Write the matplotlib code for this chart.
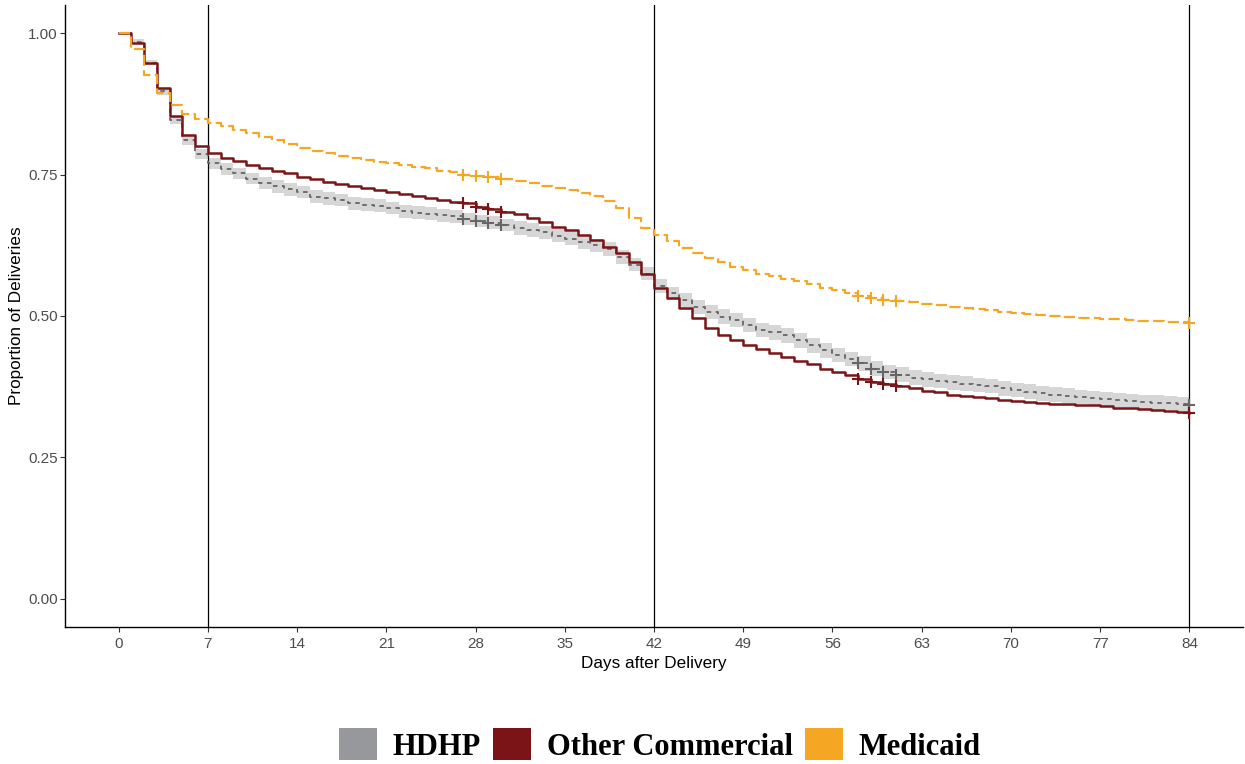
import matplotlib
matplotlib.use("Agg")
import matplotlib.pyplot as plt
from matplotlib.patches import Patch

plt.rcParams["font.family"] = ["Liberation Sans", "DejaVu Sans"]

# Kaplan-Meier style curves, one value per day (0..84)
days = list(range(85))

hdhp = [1.0, 0.985, 0.948, 0.897, 0.847, 0.811, 0.787, 0.770, 0.760, 0.752,
        0.743, 0.735, 0.729, 0.724, 0.719, 0.711, 0.708, 0.705, 0.699, 0.697,
        0.695, 0.691, 0.685, 0.683, 0.681, 0.678, 0.676, 0.672, 0.668, 0.665,
        0.661, 0.656, 0.652, 0.648, 0.642, 0.637, 0.631, 0.625, 0.618, 0.604,
        0.591, 0.575, 0.553, 0.540, 0.528, 0.516, 0.507, 0.499, 0.493, 0.484,
        0.475, 0.471, 0.466, 0.457, 0.448, 0.439, 0.431, 0.424, 0.416, 0.407,
        0.401, 0.396, 0.391, 0.388, 0.385, 0.383, 0.380, 0.378, 0.376, 0.372,
        0.369, 0.366, 0.363, 0.361, 0.359, 0.357, 0.355, 0.353, 0.351, 0.349,
        0.348, 0.347, 0.346, 0.344, 0.343]

# half width of the HDHP confidence band per day
hdhp_ci = [0.0, 0.004, 0.005, 0.006, 0.007, 0.008, 0.009, 0.010, 0.010, 0.010,
           0.010, 0.010, 0.011, 0.011, 0.011, 0.011, 0.011, 0.011, 0.011, 0.011,
           0.011, 0.011, 0.011, 0.011, 0.011, 0.011, 0.011, 0.011, 0.011, 0.011,
           0.011, 0.012, 0.012, 0.012, 0.012, 0.012, 0.012, 0.012, 0.012, 0.012,
           0.012, 0.012, 0.012, 0.012, 0.012, 0.013, 0.013, 0.013, 0.013, 0.013,
           0.013, 0.013, 0.013, 0.013, 0.013, 0.013, 0.013, 0.013, 0.013, 0.013,
           0.013, 0.013, 0.013, 0.013, 0.013, 0.013, 0.013, 0.013, 0.013, 0.013,
           0.013, 0.013, 0.013, 0.013, 0.013, 0.013, 0.013, 0.013, 0.013, 0.013,
           0.013, 0.013, 0.013, 0.013, 0.013]

other_commercial = [1.0, 0.982, 0.947, 0.903, 0.853, 0.820, 0.800, 0.789, 0.780, 0.774,
                    0.767, 0.762, 0.756, 0.752, 0.746, 0.742, 0.737, 0.733, 0.730, 0.726,
                    0.723, 0.719, 0.715, 0.713, 0.709, 0.705, 0.702, 0.699, 0.693, 0.689,
                    0.684, 0.680, 0.673, 0.667, 0.658, 0.652, 0.643, 0.634, 0.622, 0.611,
                    0.595, 0.575, 0.550, 0.531, 0.514, 0.497, 0.478, 0.467, 0.457, 0.448,
                    0.441, 0.434, 0.428, 0.421, 0.415, 0.407, 0.401, 0.395, 0.389, 0.384,
                    0.380, 0.377, 0.372, 0.368, 0.365, 0.361, 0.359, 0.357, 0.355, 0.352,
                    0.350, 0.348, 0.346, 0.345, 0.344, 0.343, 0.342, 0.340, 0.338, 0.337,
                    0.335, 0.334, 0.332, 0.331, 0.329]

medicaid = [1.0, 0.973, 0.926, 0.895, 0.873, 0.858, 0.848, 0.841, 0.836, 0.829,
            0.823, 0.817, 0.811, 0.805, 0.797, 0.792, 0.788, 0.783, 0.779, 0.776,
            0.773, 0.770, 0.767, 0.764, 0.761, 0.757, 0.754, 0.750, 0.748, 0.746,
            0.742, 0.739, 0.735, 0.730, 0.727, 0.723, 0.717, 0.712, 0.704, 0.691,
            0.674, 0.656, 0.644, 0.632, 0.621, 0.611, 0.602, 0.595, 0.587, 0.581,
            0.575, 0.571, 0.565, 0.561, 0.556, 0.550, 0.546, 0.540, 0.535, 0.532,
            0.529, 0.527, 0.525, 0.522, 0.519, 0.516, 0.514, 0.512, 0.510, 0.507,
            0.505, 0.503, 0.501, 0.500, 0.499, 0.497, 0.496, 0.495, 0.494, 0.493,
            0.492, 0.491, 0.490, 0.489, 0.487]

censor_days = [27, 28, 29, 30, 58, 59, 60, 61, 84]
ref_days = [7, 42, 84]
x_ticks = [0, 7, 14, 21, 28, 35, 42, 49, 56, 63, 70, 77, 84]
y_ticks = [0.0, 0.25, 0.5, 0.75, 1.0]
labels = ["HDHP", "Other Commercial", "Medicaid"]

grey_fill = "#97989c"
red = "#7b1416"
orange = "#f5a623"

fig = plt.figure(figsize=(12.45, 7.64), dpi=100)
ax = fig.add_axes([0.0522, 0.1793, 0.9462, 0.8142])

# HDHP band + dotted line
lo = [v - c for v, c in zip(hdhp, hdhp_ci)]
hi = [v + c for v, c in zip(hdhp, hdhp_ci)]
ax.fill_between(days, lo, hi, step="post", color="#d6d6d6", lw=0, zorder=1)
ax.step(days, hdhp, where="post", color="#666666", lw=1.3,
        dashes=(2.5, 2.5), zorder=3)

ax.step(days, other_commercial, where="post", color=red, lw=1.8, zorder=4)
ax.step(days, medicaid, where="post", color=orange, lw=1.6,
        dashes=(5, 2), zorder=4)

# censor marks
for vals, col in [(hdhp, "#666666"), (other_commercial, red), (medicaid, orange)]:
    ax.plot(censor_days, [vals[d] for d in censor_days], ls="none", marker="+",
            ms=8, mew=1.5, color=col, zorder=5)

for d in ref_days:
    ax.axvline(d, color="black", lw=0.9, zorder=2)

ax.set_xlim(-4.2, 88.2)
ax.set_ylim(-0.05, 1.05)
ax.set_xticks(x_ticks)
ax.set_yticks(y_ticks)
ax.set_yticklabels(["%.2f" % v for v in y_ticks])
ax.tick_params(labelsize=11, labelcolor="#4d4d4d", color="#333333",
               length=3.5, width=0.8, pad=1.8)
ax.tick_params(axis="x", pad=3.5)
ax.spines["top"].set_visible(False)
ax.spines["right"].set_visible(False)
ax.spines["left"].set_linewidth(1.0)
ax.spines["bottom"].set_linewidth(1.0)
ax.set_xlabel("Days after Delivery", fontsize=12.3, labelpad=4)
ax.set_ylabel("Proportion of Deliveries", fontsize=12.3, labelpad=3)

handles = [Patch(facecolor=c, edgecolor="none") for c in [grey_fill, red, orange]]
fig.legend(handles, labels, loc="center", bbox_to_anchor=(0.53, 0.025), ncol=3,
           frameon=False, handlelength=1.25, handleheight=1.25,
           handletextpad=0.5, columnspacing=0.4,
           prop={"family": "Liberation Serif", "weight": "bold", "size": 22})

plt.savefig("out.png", dpi=100)
